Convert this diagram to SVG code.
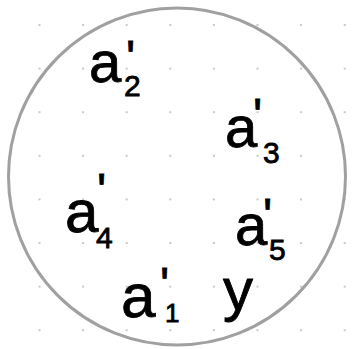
<svg xmlns="http://www.w3.org/2000/svg" width="353" height="349" viewBox="0 0 353 349">
<defs>
<pattern id="dots" x="0" y="0" width="43.6" height="43.6" patternUnits="userSpaceOnUse" patternTransform="translate(39.5 25)">
<circle cx="0" cy="0" r="1.1" fill="#bdbdbd"/>
<circle cx="43.6" cy="0" r="1.1" fill="#bdbdbd"/>
<circle cx="0" cy="43.6" r="1.1" fill="#bdbdbd"/>
<circle cx="43.6" cy="43.6" r="1.1" fill="#bdbdbd"/>
</pattern>
</defs>
<style>
.t{font-family:"Liberation Sans",Arial,sans-serif;fill:#000;stroke:#000;stroke-width:0.8;font-size:58px;}
.p{font-size:48px;}
.s{font-size:30px;}
</style>
<rect width="353" height="349" fill="#fff"/>
<rect width="353" height="349" fill="url(#dots)"/>
<g id="boundary"><circle cx="177" cy="176.5" r="168.5" fill="none" stroke="#a0a0a0" stroke-width="3"/></g>
<g id="a2"><text class="t" x="89" y="82">a<tspan class="p" x="126" y="74">'</tspan><tspan class="s" x="124" y="96">2</tspan></text></g>
<g id="a3"><text class="t" x="225" y="147">a<tspan class="p" x="253" y="132">'</tspan><tspan class="s" x="263" y="163">3</tspan></text></g>
<g id="a4"><text class="t" x="65" y="232" style="font-size:60px">a<tspan class="p" x="97" y="207">'</tspan><tspan class="s" x="96" y="248">4</tspan></text></g>
<g id="a5"><text class="t" x="235" y="245">a<tspan class="p" x="263" y="232">'</tspan><tspan class="s" x="269" y="260">5</tspan></text></g>
<g id="a1"><text class="t" x="121" y="317" style="font-size:62px">a<tspan class="p" x="160" y="301">'</tspan><tspan class="s" x="165" y="322" style="font-size:26px">1</tspan></text></g>
<g id="y"><text class="t" x="223" y="310" style="font-size:60px">y</text></g>
<g id="connectors"/>
</svg>
